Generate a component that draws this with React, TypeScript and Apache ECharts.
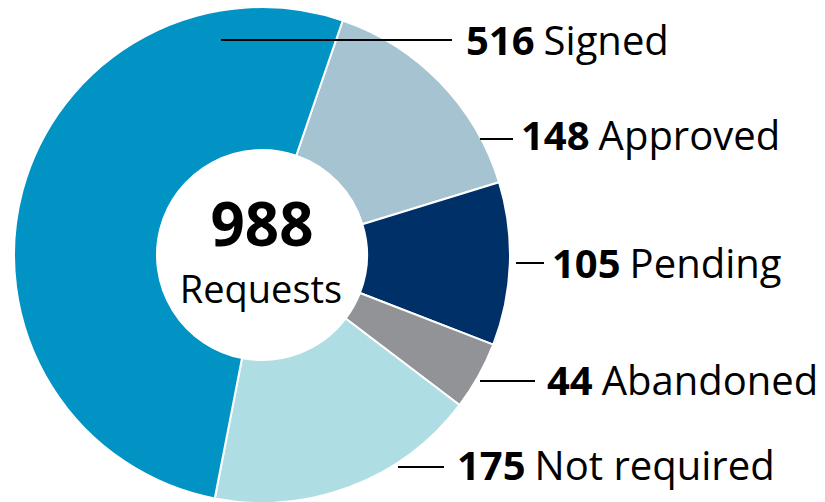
import React, { useEffect, useRef } from "react";
import * as echarts from "echarts";

const categories = ["Approved", "Pending", "Abandoned", "Not required", "Signed"];
const values = [148, 105, 44, 175, 516];
const colors = ["#A6C3D1", "#003068", "#929396", "#AEDDE3", "#0093C3"];
const totalLabel = "Requests";

// label layout: text left x, text middle y, line start x, line end x, line y
const labelLayouts = [
  { tx: 521, ty: 134, x1: 480, x2: 513, ly: 139 },
  { tx: 552, ty: 262, x1: 516, x2: 544, ly: 263 },
  { tx: 547, ty: 379, x1: 480, x2: 535, ly: 381 },
  { tx: 457, ty: 464, x1: 398, x2: 444, ly: 467 },
  { tx: 466, ty: 39, x1: 221, x2: 452, ly: 40 },
];

const FONT = "'Open Sans', 'Noto Sans', sans-serif";
const CENTER = [262, 255];
const RADIUS = [105, 248];

export default function App() {
  const ref = useRef<HTMLDivElement>(null);
  useEffect(() => {
    if (!ref.current) return;
    const chart = echarts.init(ref.current, null, { renderer: "svg" });
    const total = values.reduce((a, b) => a + b, 0);
    const common = {
      type: "pie",
      center: CENTER,
      radius: RADIUS,
      startAngle: 71,
      clockwise: true,
      avoidLabelOverlap: false,
      silent: true,
      emphasis: { disabled: true },
    };
    chart.setOption({
      animation: false,
      backgroundColor: "#ffffff",
      graphic: [
        {
          type: "text",
          style: {
            x: CENTER[0],
            y: 223,
            text: String(total),
            align: "center",
            verticalAlign: "middle",
            fontFamily: FONT,
            fontWeight: "bold",
            fontSize: 60,
            fill: "#000",
          },
        },
        {
          type: "text",
          style: {
            x: CENTER[0] - 1,
            y: 288,
            text: totalLabel,
            align: "center",
            verticalAlign: "middle",
            fontFamily: FONT,
            fontSize: 38,
            fill: "#000",
          },
        },
      ],
      series: [
        {
          ...common,
          z: 2,
          itemStyle: { borderColor: "#ffffff", borderWidth: 2 },
          data: categories.map((name, i) => ({
            name,
            value: values[i],
            itemStyle: { color: colors[i] },
          })),
          label: { show: false },
          labelLine: { show: false },
        },
        {
          ...common,
          z: 3,
          itemStyle: { color: "rgba(0,0,0,0)", borderWidth: 0 },
          data: categories.map((name, i) => ({ name, value: values[i] })),
          label: {
            show: true,
            formatter: "{v|{c}}{n|{b}}",
            fontFamily: FONT,
            rich: {
              v: { fontFamily: FONT, fontWeight: "bold", fontSize: 40, color: "#000" },
              n: { fontFamily: FONT, fontSize: 40, color: "#000", padding: [0, 0, 0, 9] },
            },
          },
          labelLine: {
            show: true,
            lineStyle: { color: "#000", width: 2 },
          },
          labelLayout: (params: any) => {
            const L = labelLayouts[params.dataIndex];
            return {
              x: L.tx,
              y: L.ty,
              align: "left",
              verticalAlign: "middle",
              labelLinePoints: [
                [L.x1, L.ly],
                [L.x2, L.ly],
                [L.x2, L.ly],
              ],
            };
          },
        },
      ],
    });
    return () => chart.dispose();
  }, []);
  return (
    <div
      ref={ref}
      style={{ position: "absolute", left: 0, top: 0, width: 825, height: 502 }}
    />
  );
}
